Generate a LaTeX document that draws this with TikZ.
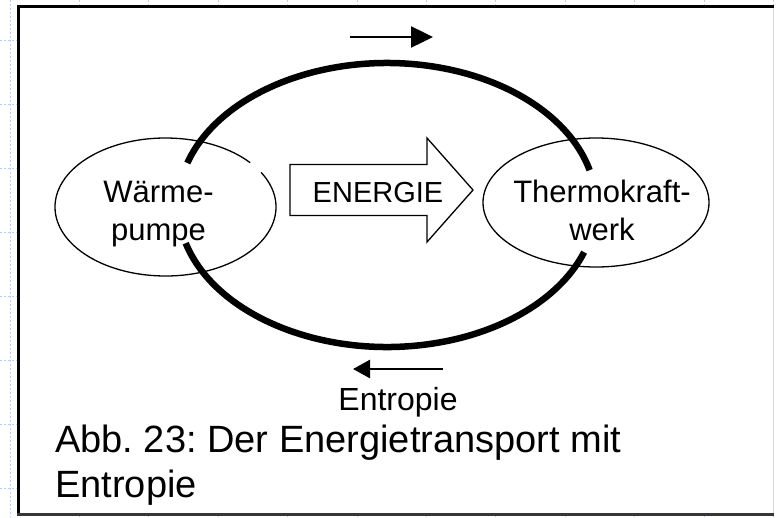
\documentclass[tikz,border=0pt]{standalone}
\usepackage{fontspec}
\setmainfont{Liberation Sans}
\usetikzlibrary{shapes.geometric, arrows.meta, calc}
\definecolor{gridblue}{RGB}{190,204,240}
\definecolor{framegray}{RGB}{55,55,55}
\definecolor{edgegray}{RGB}{215,215,215}
\frenchspacing
\tikzset{
    bubble/.style={ellipse, draw, line width=1.3pt, inner sep=0pt},
    outline/.style={line width=1.3pt},
    nodetext/.style={font=\fontsize{31}{38}\selectfont, align=center, inner sep=0pt},
    ring/.style={line width=6.5pt},
    flow/.style={-{Triangle[length=22pt,width=21pt]}, line width=2.5pt},
    backflow/.style={-{Triangle[length=17pt,width=18pt]}, line width=2.5pt},
    gridline/.style={gridblue, line width=0.8pt, dash pattern=on 2pt off 2pt}
}

\begin{document}
\begin{tikzpicture}[x=1pt, y=-1pt]

    \useasboundingbox (0,0) rectangle (781,517);

    % sheet grid behind the frame
    \foreach \gx in {0,...,11}
        \draw[gridline] ({10+69.4*\gx},0) -- ({10+69.4*\gx},517);
    \foreach \gy in {0,...,7}
        \draw[gridline] (0,{40+64*\gy}) -- (772,{40+64*\gy});

    % frame
    \fill[white] (19,7) rectangle (773,514);
    \draw[edgegray, line width=1pt] (773,7) -- (773,514);
    \draw[black, line width=3.5pt] (18.5,5.5) -- (18.5,515);
    \draw[black, line width=3pt] (17,6.5) -- (774,6.5);
    \draw[framegray, line width=3pt] (17,514.5) -- (774,514.5);

    % the two machines
    \node[bubble, draw=none, minimum width=221pt, minimum height=138pt] (pump) at (165.5,207) {};
    \draw[outline] ($(pump.center)+(40:110.5pt and 69pt)$) arc[start angle=40, end angle=390, x radius=110.5pt, y radius=69pt];
    \node[bubble, minimum width=226pt, minimum height=129pt] (plant) at (596,202.5) {};

    \node[nodetext] (pumptext) at (158.5,214) {Wärme-\\pumpe};
    \node[nodetext] (planttext) at (602,210.7) {Thermokraft-\\werk};

    % energy arrow
    \draw[outline] (290,164.5) -- (427,164.5) -- (427,138) -- (473,190) -- (427,242) -- (427,215.5) -- (290,215.5) -- cycle;
    \node[font=\fontsize{29}{35}\selectfont, inner sep=0pt] (energy) at (378,192.4) {ENERGIE};

    % entropy cycle
    \coordinate (ringc) at (387,205);
    \draw[ring] ($(ringc)+(162.8:209pt and 142pt)$) arc[start angle=162.8, end angle=14.2, x radius=209pt, y radius=142pt];
    \draw[ring] ($(ringc)+(195.6:209pt and 142pt)$) arc[start angle=195.6, end angle=340.6, x radius=209pt, y radius=142pt];

    \coordinate (topL) at (350,37);
    \coordinate (topR) at (433,37);
    \draw[flow] (topL) -- (topR);

    \coordinate (botR) at (443,369);
    \coordinate (botL) at (353,369);
    \draw[backflow] (botR) -- (botL);

    \node[font=\fontsize{32}{38}\selectfont, inner sep=0pt] (entropy) at (398,401.9) {Entropie};

    \node[font=\fontsize{38}{45}\selectfont, align=left, anchor=north west, inner sep=0pt] (caption) at (55,424.3) {Abb. 23: Der Energietransport mit\\Entropie};

\end{tikzpicture}
\end{document}
